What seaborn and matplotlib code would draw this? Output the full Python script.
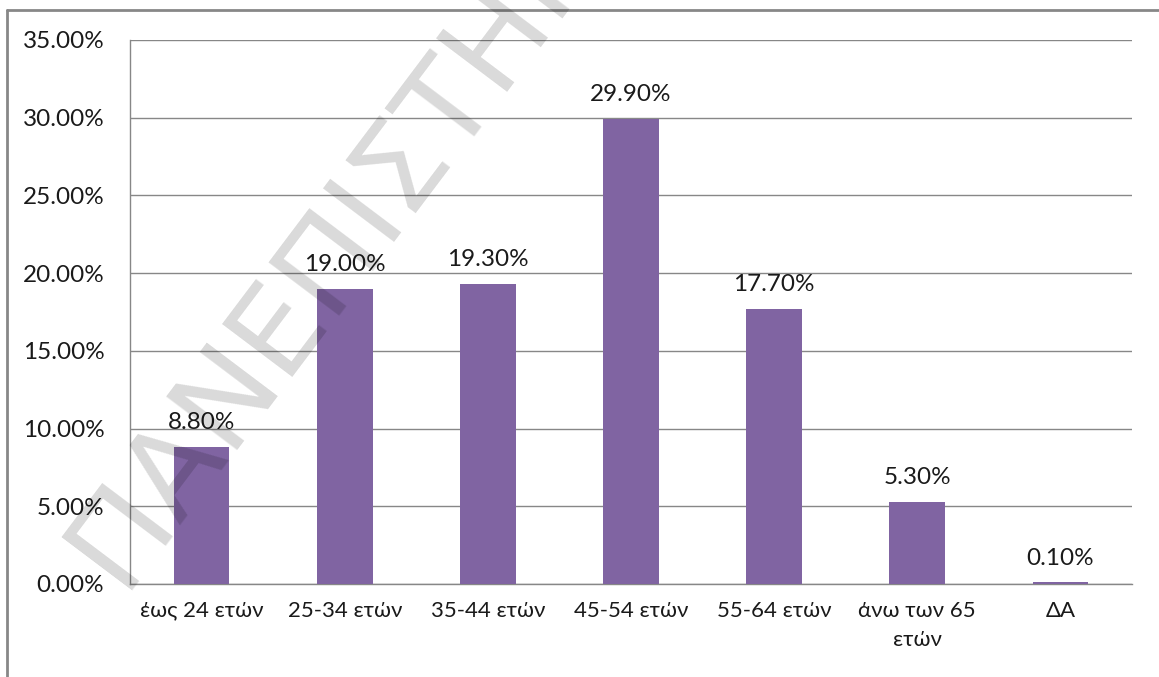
import matplotlib
matplotlib.use("Agg")
import matplotlib.pyplot as plt
from matplotlib.lines import Line2D
from matplotlib.ticker import FuncFormatter, MultipleLocator
import seaborn as sns
import pandas as pd

# Age groups and their shares (%)
categories = ["έως 24 ετών", "25-34 ετών", "35-44 ετών", "45-54 ετών",
              "55-64 ετών", "άνω των 65\nετών", "ΔΑ"]
values = [8.8, 19.0, 19.3, 29.9, 17.7, 5.3, 0.1]
value_labels = ["8.80%", "19.00%", "19.30%", "29.90%", "17.70%", "5.30%", "0.10%"]
watermark = "ΠΑΝΕΠΙΣΤΗΜΙΟ"

sns.set_theme(style="white")
plt.rcParams["font.family"] = ["Lato", "Noto Sans", "DejaVu Sans"]

df = pd.DataFrame({"category": categories, "value": values})

W, H = 1159, 677
fig = plt.figure(figsize=(W / 100, H / 100), dpi=100)
ax = fig.add_axes([130 / W, 1 - 584 / H, (1132 - 130) / W, (584 - 40) / H])

BAR = "#8064A2"
GRID = "#878787"
TEXT = "#1a1a1a"
FS = 17.5
FS_X = 16

sns.barplot(data=df, x="category", y="value", color=BAR, width=0.39,
            saturation=1, ax=ax, zorder=3)
for p in ax.patches:
    p.set_edgecolor("none")

ax.set_ylim(0, 35)
ax.set_xlim(-0.5, len(categories) - 0.5)
ax.yaxis.set_major_locator(MultipleLocator(5))
ax.yaxis.set_major_formatter(FuncFormatter(lambda v, _: f"{v:.2f}%"))
ax.grid(axis="y", color=GRID, linewidth=1.0, zorder=0)
ax.set_axisbelow(True)

for side in ["top", "right"]:
    ax.spines[side].set_visible(False)
for side in ["left", "bottom"]:
    ax.spines[side].set_color(GRID)
    ax.spines[side].set_linewidth(1.0)

ax.tick_params(axis="y", length=0, pad=18.5, labelsize=FS, labelcolor=TEXT)
ax.tick_params(axis="x", length=0, pad=12, labelsize=FS_X, labelcolor=TEXT)
for t in ax.get_xticklabels():
    t.set_linespacing(1.6)
ax.set_xlabel("")
ax.set_ylabel("")

# value labels above bars
for i, (v, lab) in enumerate(zip(values, value_labels)):
    ax.annotate(lab, (i, v), xytext=(0, 10), textcoords="offset points",
                ha="center", va="bottom", fontsize=FS, color=TEXT)

# outer frame (top and left edges)
fig.add_artist(Line2D([7 / W, 1], [1 - 10 / H] * 2, transform=fig.transFigure,
                      color=GRID, linewidth=2))
fig.add_artist(Line2D([7 / W] * 2, [0, 1 - 10 / H], transform=fig.transFigure,
                      color=GRID, linewidth=2))

# diagonal watermark
fig.text(120 / W, 1 - 590 / H, watermark, rotation=53, rotation_mode="anchor",
         ha="left", va="baseline", fontsize=88, color="black", alpha=0.15,
         family=["DejaVu Sans"], zorder=10)

fig.savefig("out.png", dpi=100)
